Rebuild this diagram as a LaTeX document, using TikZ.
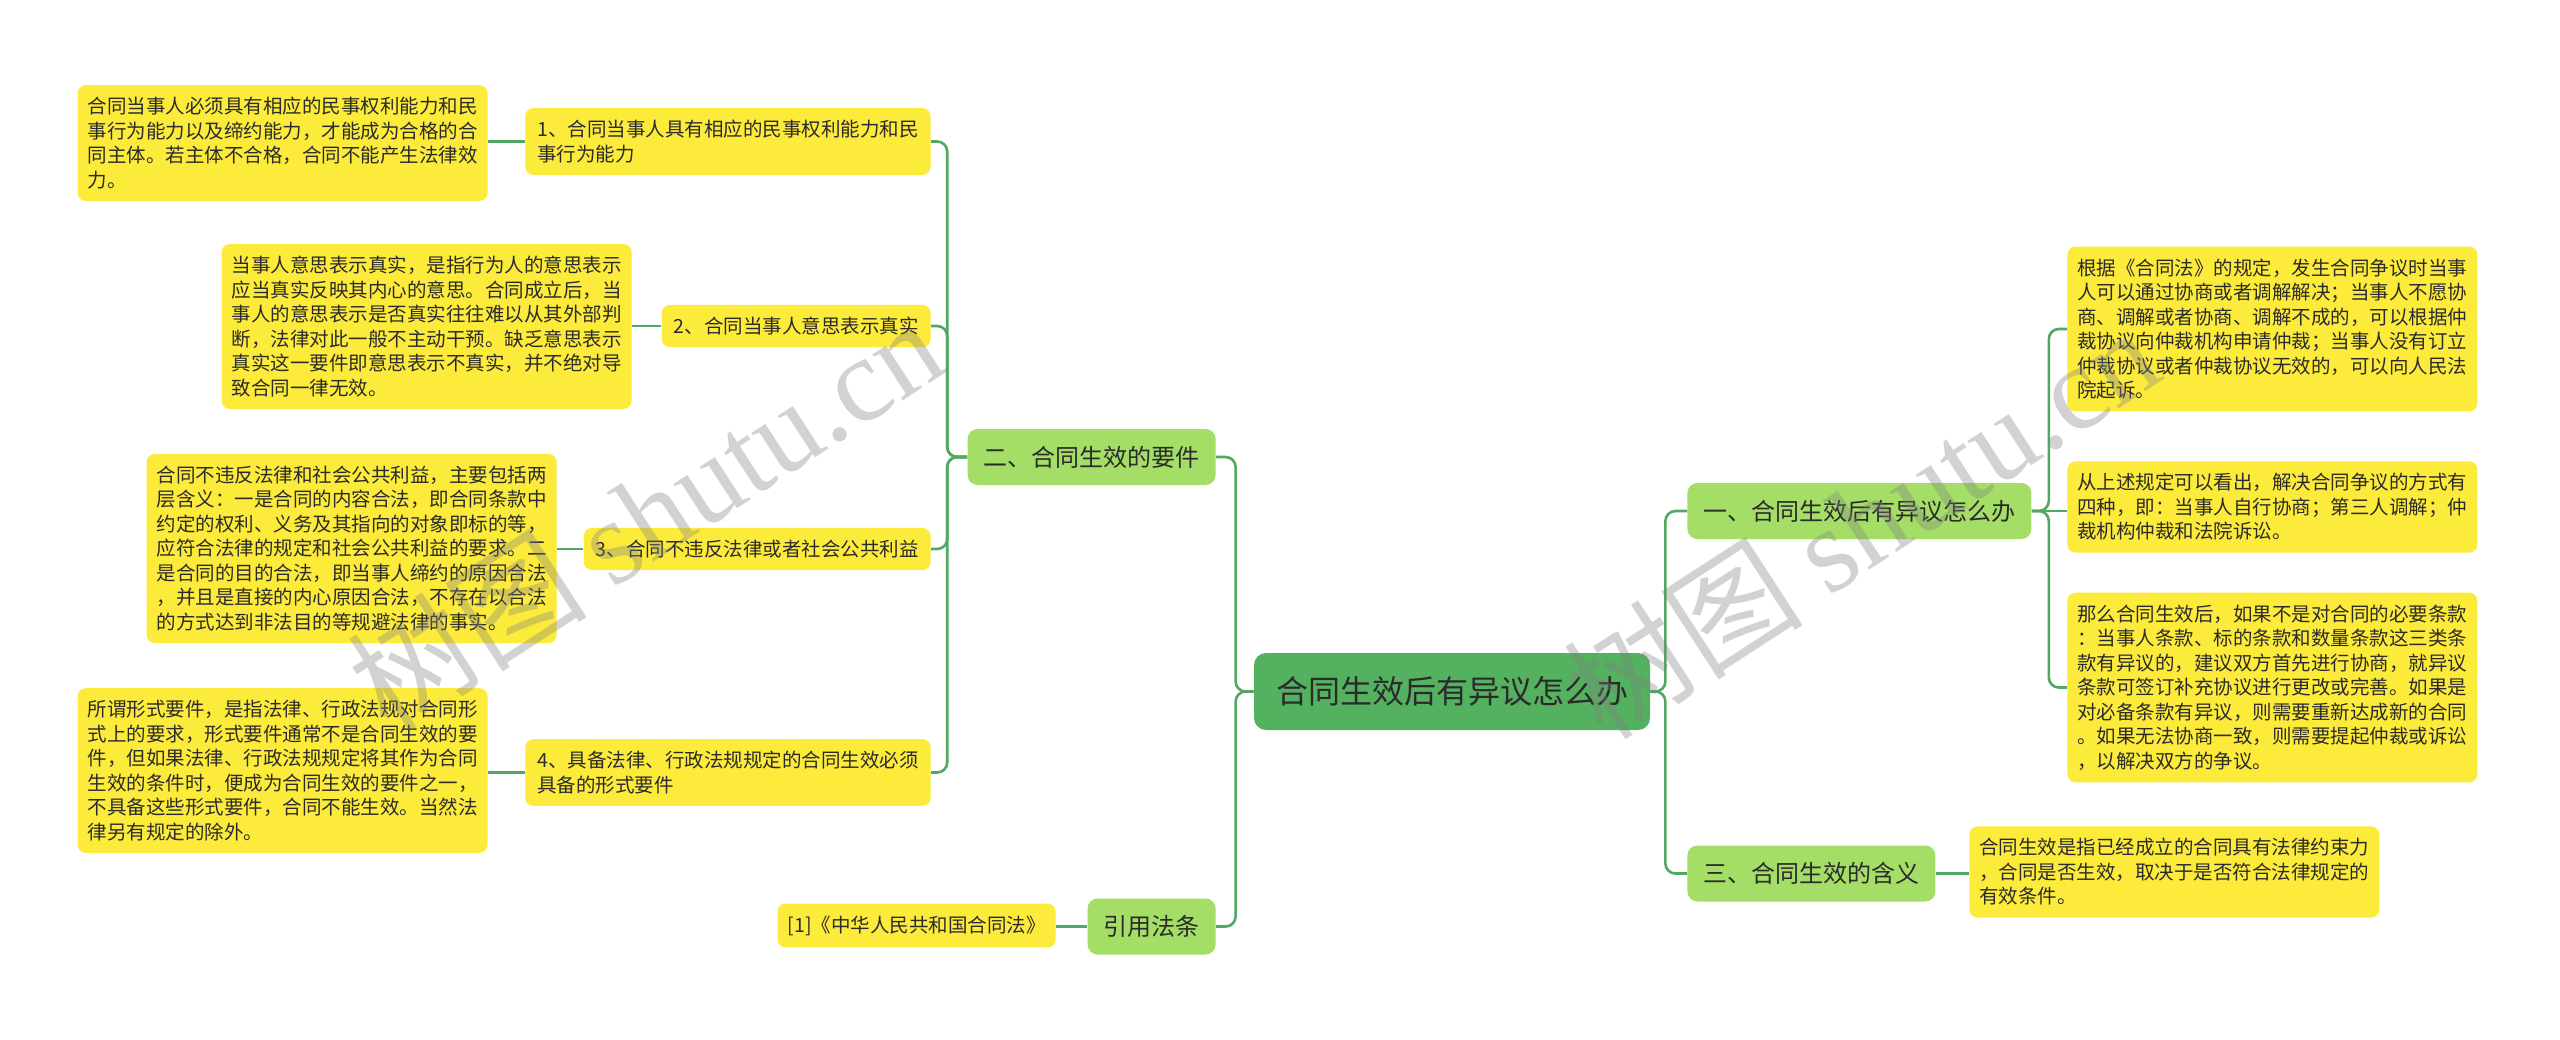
\documentclass[tikz,border=0pt]{standalone}
\usepackage{fontspec}
\setmainfont{Noto Sans CJK SC}
\newfontfamily\wmserif{Liberation Serif}
\definecolor{leafyellow}{HTML}{FDEB3C}
\definecolor{topicgreen}{HTML}{A4DE66}
\definecolor{rootgreen}{HTML}{54B15F}
\definecolor{linegreen}{HTML}{52A862}
\definecolor{inkgray}{HTML}{2B2B2B}
\begin{document}
\begin{tikzpicture}[x=0.5pt,y=-0.5pt,
  leafbox/.style={fill=leafyellow,rounded corners=4pt,inner xsep=5pt,inner ysep=6pt,align=left,text=inkgray,font=\fontsize{9.75pt}{12.25pt}\selectfont},
  topicbox/.style={fill=topicgreen,rounded corners=5pt,inner xsep=8pt,minimum height=28pt,text=inkgray,font=\fontsize{12pt}{14pt}\selectfont},
  rootbox/.style={fill=rootgreen,rounded corners=6pt,inner xsep=11pt,minimum height=38.5pt,text=inkgray,font=\fontsize{16pt}{18pt}\selectfont},
  link/.style={draw=linegreen,line width=1.3pt,rounded corners=5pt},
  stamp/.style={text=gray,opacity=0.35,rotate=33,font=\fontsize{60pt}{60pt}\selectfont}]
\useasboundingbox[fill=white] (0,0) rectangle (2560,1039);
\node[rootbox] (root) at (1452,691.5) {合同生效后有异议怎么办};
\node[topicbox,anchor=east] (req) at (1216,457) {二、合同生效的要件};
\node[topicbox,anchor=east] (cite) at (1216,926.5) {引用法条};
\node[topicbox,anchor=west] (ans) at (1687,511) {一、合同生效后有异议怎么办};
\node[topicbox,anchor=west] (mean) at (1687,873.5) {三、合同生效的含义};
\node[leafbox,anchor=east,inner xsep=6pt] (b1) at (931,141.5) {1、合同当事人具有相应的民事权利能力和民\\事行为能力};
\node[leafbox,anchor=east,inner xsep=6pt] (b2) at (931,326) {2、合同当事人意思表示真实};
\node[leafbox,anchor=east,inner xsep=6pt] (b3) at (931,549) {3、合同不违反法律或者社会公共利益};
\node[leafbox,anchor=east,inner xsep=6pt] (b4) at (931,772.5) {4、具备法律、行政法规规定的合同生效必须\\具备的形式要件};
\node[leafbox,anchor=east] (l1) at (488,143) {合同当事人必须具有相应的民事权利能力和民\\事行为能力以及缔约能力，才能成为合格的合\\同主体。若主体不合格，合同不能产生法律效\\力。};
\node[leafbox,anchor=east] (l2) at (632,326.5) {当事人意思表示真实，是指行为人的意思表示\\应当真实反映其内心的意思。合同成立后，当\\事人的意思表示是否真实往往难以从其外部判\\断，法律对此一般不主动干预。缺乏意思表示\\真实这一要件即意思表示不真实，并不绝对导\\致合同一律无效。};
\node[leafbox,anchor=east] (l3) at (557,548.5) {合同不违反法律和社会公共利益，主要包括两\\层含义：一是合同的内容合法，即合同条款中\\约定的权利、义务及其指向的对象即标的等，\\应符合法律的规定和社会公共利益的要求。二\\是合同的目的合法，即当事人缔约的原因合法\\，并且是直接的内心原因合法，不存在以合法\\的方式达到非法目的等规避法律的事实。};
\node[leafbox,anchor=east] (l4) at (488,770.5) {所谓形式要件，是指法律、行政法规对合同形\\式上的要求，形式要件通常不是合同生效的要\\件，但如果法律、行政法规规定将其作为合同\\生效的条件时，便成为合同生效的要件之一，\\不具备这些形式要件，合同不能生效。当然法\\律另有规定的除外。};
\node[leafbox,anchor=east] (ref1) at (1056,925.5) {[1]《中华人民共和国合同法》};
\node[leafbox,anchor=west] (r1) at (2067,329) {根据《合同法》的规定，发生合同争议时当事\\人可以通过协商或者调解解决；当事人不愿协\\商、调解或者协商、调解不成的，可以根据仲\\裁协议向仲裁机构申请仲裁；当事人没有订立\\仲裁协议或者仲裁协议无效的，可以向人民法\\院起诉。};
\node[leafbox,anchor=west] (r2) at (2067,507) {从上述规定可以看出，解决合同争议的方式有\\四种，即：当事人自行协商；第三人调解；仲\\裁机构仲裁和法院诉讼。};
\node[leafbox,anchor=west] (r3) at (2067,687.5) {那么合同生效后，如果不是对合同的必要条款\\：当事人条款、标的条款和数量条款这三类条\\款有异议的，建议双方首先进行协商，就异议\\条款可签订补充协议进行更改或完善。如果是\\对必备条款有异议，则需要重新达成新的合同\\。如果无法协商一致，则需要提起仲裁或诉讼\\，以解决双方的争议。};
\node[leafbox,anchor=west] (m1) at (1969,872) {合同生效是指已经成立的合同具有法律约束力\\，合同是否生效，取决于是否符合法律规定的\\有效条件。};
\draw[link] (root.west) -- ++(-18,0) |- (req.east);
\draw[link] (root.west) -- ++(-18,0) |- (cite.east);
\draw[link] (root.east) -- ++(15,0) |- (ans.west);
\draw[link] (root.east) -- ++(15,0) |- (mean.east -| ans.west);
\foreach \b in {b1,b2,b3,b4}
  \draw[link] (req.west) -- ++(-20,0) |- (\b.east);
\foreach \b/\l in {b1/l1,b2/l2,b3/l3,b4/l4}
  \draw[link] (\b.west) -- (\b.west -| \l.east);
\draw[link] (cite.west) -- (cite.west -| ref1.east);
\foreach \r in {r1,r3}
  \draw[link] (ans.east) -- ++(17,0) |- (\r.west);
\draw[link] (ans.east) -- (ans.east -| r2.west);
\draw[link] (mean.east) -- (mean.east -| m1.west);
\node[stamp] (mark1) at (645,514) {树图 {\wmserif shutu.cn}};
\node[stamp] (mark2) at (1861,522) {树图 {\wmserif shutu.cn}};
\end{tikzpicture}
\end{document}
